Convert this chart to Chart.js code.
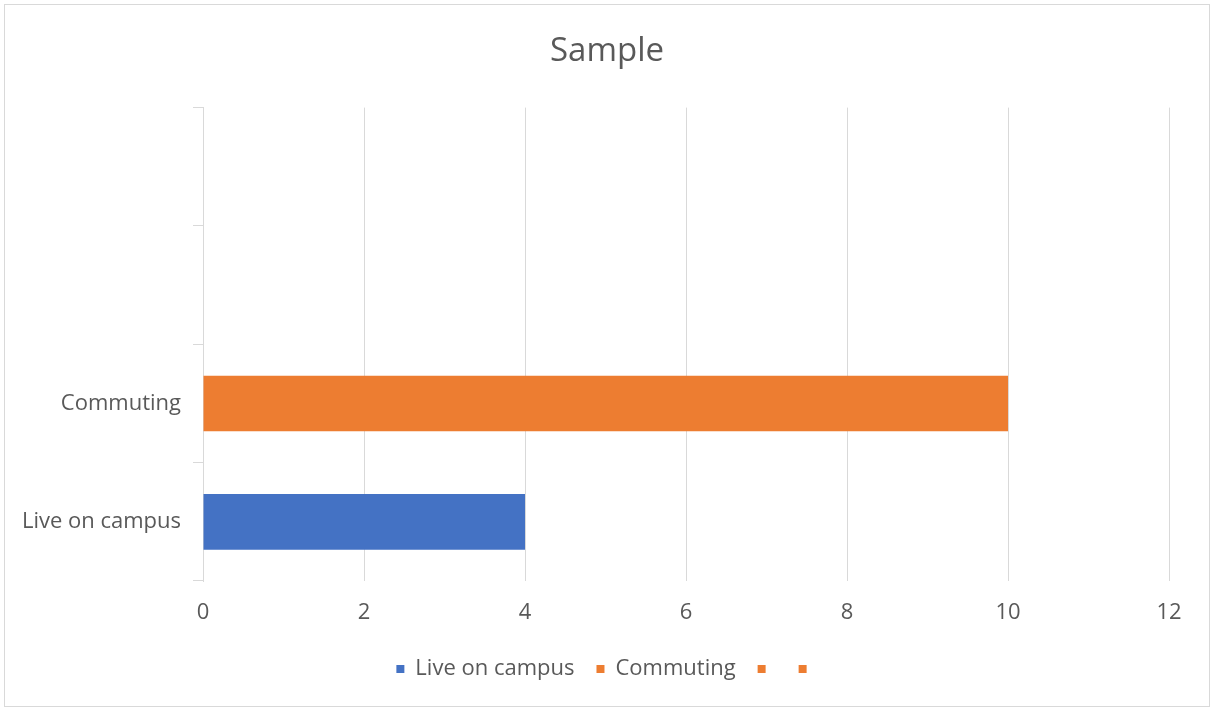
<!DOCTYPE html>
<html>
<head>
<meta charset="utf-8">
<title>Sample</title>
<script src="https://cdn.jsdelivr.net/npm/chart.js@4/dist/chart.umd.min.js"></script>
<style>
  html, body { margin: 0; padding: 0; background: #ffffff; }
  #frame {
    position: absolute;
    left: 4px;
    top: 4px;
    width: 1206px;
    height: 703px;
    box-sizing: border-box;
    border: 1px solid #d9d9d9;
  }
</style>
</head>
<body>
<div id="frame"><canvas id="sampleChart"></canvas></div>
<script>
// categories, bottom to top (the last two are left blank)
var categories = ['Live on campus', 'Commuting', '', ''];
// number of students in each category
var counts = [4, 10, null, null];
// fill colour for each category
var barColors = ['#4472C4', '#ED7D31', '#ED7D31', '#ED7D31'];
// value axis
var axisMin = 0;
var axisMax = 12;
var axisStep = 2;

var textColor = '#595959';
var lineColor = '#d9d9d9';
var fontFamily = '"Open Sans", "Noto Sans", sans-serif';

var ctx = document.getElementById('sampleChart').getContext('2d');

new Chart(ctx, {
    type: 'bar',
    data: {
        labels: categories,
        datasets: [{
            label: 'Sample',
            data: counts,
            backgroundColor: barColors,
            borderWidth: 0,
            barPercentage: 1,
            categoryPercentage: 0.47
        }]
    },
    options: {
        indexAxis: 'y',
        responsive: true,
        maintainAspectRatio: false,
        animation: false,
        layout: {
            padding: { left: 0, right: 0, top: 0, bottom: 16 }
        },
        plugins: {
            title: {
                display: true,
                text: 'Sample',
                color: textColor,
                font: { family: fontFamily, size: 33, weight: 'normal' },
                padding: { top: 27, bottom: 36 }
            },
            legend: {
                position: 'bottom',
                labels: {
                    color: textColor,
                    font: { family: fontFamily, size: 22 },
                    boxWidth: 8,
                    boxHeight: 8,
                    padding: 22,
                    // one legend entry per category, coloured like its bar
                    generateLabels: function(chart) {
                        return categories.map(function(name, i) {
                            return {
                                text: name,
                                fillStyle: barColors[i],
                                strokeStyle: barColors[i],
                                lineWidth: 0,
                                fontColor: textColor,
                                hidden: false,
                                index: i
                            };
                        });
                    }
                },
                onClick: function() {}
            },
            tooltip: { enabled: false }
        },
        scales: {
            y: {
                type: 'category',
                reverse: true,
                afterFit: function(scale) { scale.width = 198; },
                grid: {
                    drawOnChartArea: false,
                    drawTicks: true,
                    tickLength: 10,
                    color: lineColor,
                    offset: true
                },
                border: { display: true, color: lineColor, width: 1 },
                ticks: {
                    color: textColor,
                    font: { family: fontFamily, size: 22 },
                    padding: 12
                }
            },
            // empty margin on the right so the last tick label has room
            spacer: {
                type: 'linear',
                axis: 'y',
                position: 'right',
                afterFit: function(scale) { scale.width = 40; },
                grid: { display: false },
                border: { display: false },
                ticks: { display: false }
            },
            x: {
                type: 'linear',
                min: axisMin,
                max: axisMax,
                afterFit: function(scale) { scale.height = 55; },
                grid: {
                    color: lineColor,
                    drawTicks: false
                },
                border: { display: false },
                ticks: {
                    stepSize: axisStep,
                    color: textColor,
                    font: { family: fontFamily, size: 22 },
                    padding: 19
                }
            }
        }
    }
});
</script>
</body>
</html>
